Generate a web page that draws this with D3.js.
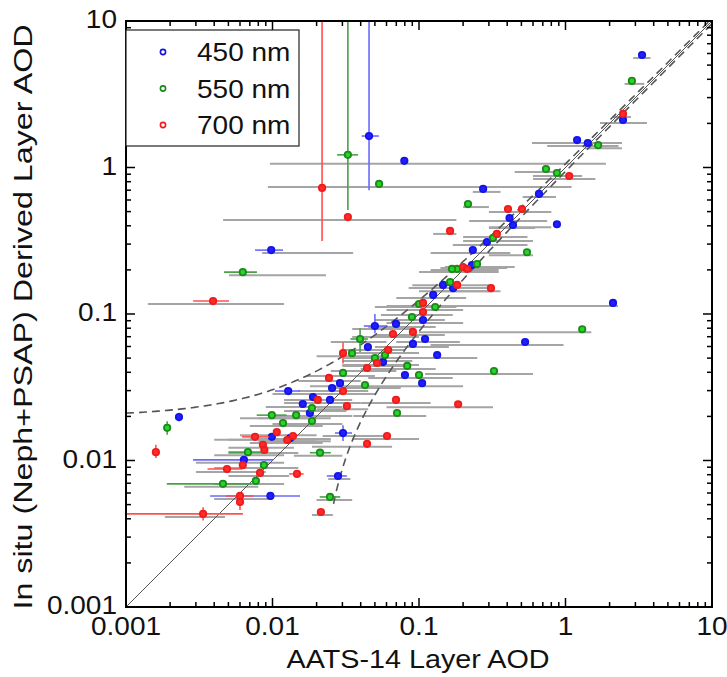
<!DOCTYPE html>
<html>
<head>
<meta charset="utf-8">
<script src="https://cdn.jsdelivr.net/npm/d3@7"></script>
<style>
  body { margin: 0; background: #fff; }
  text { font-family: "Liberation Sans", Arial, sans-serif; fill: #111; }
</style>
</head>
<body>
<div id="chart"></div>
<script>
// rows: [aats, insitu, greyLo, greyHi, xLo, xHi, yLo, yHi]  (null = none)
var nm450 = [
  [3.33, 5.86, 2.9, 3.8], [2.47, 2.11, 1.72, 3.6], [1.20, 1.54, 0.59, 2.43], [1.42, 1.47, 0.75, 2.3],
  [0.0456, 1.64, null, null, 0.0406, 0.0532, 0.70, 20], [0.0794, 1.11, 0.0096, 1.89],
  [0.0098, 0.273, 0.0085, 0.0355, 0.0076, 0.0118], [0.659, 0.66, 0.51, 0.86], [0.274, 0.714, 0.233, 0.36],
  [0.874, 0.41, 0.3, 0.8], [0.415, 0.452, 0.22, 0.75], [0.438, 0.405, 0.3, 0.62], [0.291, 0.31, 0.17, 0.55],
  [0.233, 0.273, 0.12, 0.42], [0.23, 0.216, 0.14, 0.4], [0.146, 0.158, 0.085, 0.27], [0.171, 0.15, 0.1, 0.3],
  [0.125, 0.135, 0.07, 0.21], [2.11, 0.119, 0.0686, 2.28], [0.0697, 0.0855, 0.045, 0.13], [0.1065, 0.091, 0.06, 0.2],
  [0.11, 0.0675, 0.07, 0.19], [0.0909, 0.0625, 0.05, 0.16], [0.05, 0.0828, 0.035, 0.09, 0.042, 0.06, 0.074, 0.1],
  [0.0448, 0.0595, 0.03, 0.08], [0.53, 0.0644, 0.12, 0.97], [0.133, 0.0525, 0.06, 0.25], [0.0802, 0.0383, 0.045, 0.15],
  [0.105, 0.0337, 0.05, 0.2], [0.0568, 0.047, 0.03, 0.1], [0.0289, 0.0337, 0.018, 0.05], [0.0255, 0.0312, 0.015, 0.045],
  [0.0128, 0.0298, 0.01, 0.03, 0.0104, 0.0154], [0.0189, 0.0271, 0.012, 0.035], [0.0247, 0.0259, 0.014, 0.04],
  [0.0303, 0.0154, 0.022, 0.06, 0.0267, 0.0349, 0.0136, 0.0174], [0.028, 0.00784, 0.024, 0.034, 0.0235, 0.0322],
  [0.00968, 0.00573, null, null, 0.00375, 0.0154], [0.00638, 0.0101, 0.003, 0.012, 0.00287, 0.0101],
  [0.0099, 0.0145, 0.005, 0.02], [0.0023, 0.0198, null, null, null, null, 0.0185, 0.0212],
  [0.0132, 0.0142, 0.008, 0.025], [0.0161, 0.0243, 0.009, 0.03], [0.018, 0.0211, 0.01, 0.035]
];
var nm550 = [
  [2.84, 3.9, 2.53, 3.45], [1.67, 1.42, 1.35, 2.43], [0.736, 0.977, 0.45, 0.92], [0.874, 0.917, 0.6, 1.3],
  [0.216, 0.563, 0.2, 0.3], [0.32, 0.33, 0.2, 0.6], [0.546, 0.264, 0.3, 0.6], [0.249, 0.219, 0.15, 0.45],
  [0.182, 0.203, 0.1, 0.35], [0.168, 0.203, 0.1, 0.3], [0.163, 0.165, 0.09, 0.3], [0.129, 0.1116, 0.06, 0.2],
  [0.1, 0.117, 0.05, 0.18], [0.0895, 0.0954, 0.05, 0.15], [1.30, 0.0787, 0.1, 1.5], [0.325, 0.0408, 0.11, 0.6],
  [0.0831, 0.0442, 0.04, 0.13], [0.1, 0.0383, 0.05, 0.17], [0.0396, 0.0675, 0.025, 0.06, 0.034, 0.0448, 0.055, 0.08],
  [0.0349, 0.054, 0.02, 0.06], [0.0586, 0.0525, 0.03, 0.1], [0.05, 0.05, 0.03, 0.09], [0.0303, 0.0396, 0.017, 0.05],
  [0.0428, 0.0327, 0.025, 0.075], [0.0708, 0.0211, 0.0356, 0.112], [0.0211, 0.0113, 0.014, 0.03, 0.018, 0.025],
  [0.0247, 0.00564, 0.02, 0.035, 0.021, 0.029], [0.0099, 0.0204, 0.006, 0.02, 0.0078, 0.0125],
  [0.0118, 0.018, 0.007, 0.022], [0.0068, 0.0114, 0.004, 0.012, 0.005, 0.0091], [0.00874, 0.0093, 0.006, 0.015],
  [0.0077, 0.00725, 0.004, 0.012], [0.00459, 0.00693, 0.0025, 0.008, 0.0019, 0.0072],
  [0.00191, 0.0167, null, null, null, null, 0.015, 0.0185], [0.0145, 0.0204, 0.008, 0.025], [0.0186, 0.0186, 0.01, 0.03],
  [0.0186, 0.0228, 0.012, 0.032], [0.00627, 0.193, 0.00505, 0.0232, 0.00467, 0.00783],
  [0.0327, 1.22, null, null, 0.0276, 0.0384, 0.513, 20], [0.0534, 0.772, 0.0093, 1.1]
];
var nm700 = [
  [2.47, 2.32, 2.1, 2.8], [1.06, 0.875, 0.6, 1.6], [0.405, 0.521, 0.35, 0.7], [0.505, 0.521, 0.3, 0.8],
  [0.163, 0.369, 0.125, 0.18], [0.34, 0.352, 0.2, 0.55], [0.2, 0.209, 0.12, 0.35], [0.213, 0.203, 0.12, 0.33],
  [0.182, 0.158, 0.1, 0.3], [0.31, 0.15, 0.12, 0.36], [0.1065, 0.119, 0.06, 0.2], [0.1065, 0.103, 0.055, 0.17],
  [0.0664, 0.073, 0.035, 0.1], [0.0909, 0.0754, 0.05, 0.15], [0.0303, 0.054, null, null, null, null, 0.046, 0.064],
  [0.0616, 0.0568, 0.035, 0.1], [0.0442, 0.0428, 0.025, 0.07], [0.0517, 0.0463, 0.03, 0.08],
  [0.0243, 0.0366, 0.015, 0.04], [0.0303, 0.0298, 0.018, 0.05], [0.0204, 0.0259, 0.012, 0.03],
  [0.0322, 0.0235, 0.02, 0.045], [0.0697, 0.0259, 0.04, 0.12], [0.185, 0.0242, 0.06, 0.32],
  [0.0605, 0.0147, 0.035, 0.1], [0.0442, 0.013, 0.0186, 0.0655], [0.0147, 0.0081, null, null, 0.013, 0.0163],
  [0.0214, 0.00445, 0.0186, 0.0258], [0.0076, 0.0145, 0.004, 0.015, 0.0062, 0.0095],
  [0.0107, 0.0156, 0.006, 0.02], [0.0138, 0.0147, 0.007, 0.025], [0.0126, 0.0138, 0.007, 0.022],
  [0.0086, 0.0128, 0.005, 0.014], [0.0088, 0.0118, 0.005, 0.015], [0.00489, 0.00875, 0.003, 0.009, 0.0036, 0.0062],
  [0.00627, 0.0093, 0.004, 0.012], [0.00822, 0.00822, 0.005, 0.013], [0.006, 0.00573, 0.004, 0.01, 0.0048, 0.0074],
  [0.006, 0.00521, null, null, null, null, 0.0046, 0.006],
  [0.00336, 0.00432, 0.00184, 0.00474, 0.001, 0.00628, 0.0039, 0.0048],
  [0.0016, 0.0114, null, null, null, null, 0.0104, 0.0128], [0.00393, 0.1226, 0.00141, 0.012, 0.00287, 0.00505],
  [0.0327, 0.459, 0.0046, 0.18], [0.0218, 0.725, null, null, 0.0205, 0.0232, 0.315, 20]
];
var seriesNames = ["450 nm", "550 nm", "700 nm"];
var seriesColors = ["#1414e6", "#1b8a1b", "#ee1c1c"];
var seriesBarColors = ["#6a6aff", "#4aa04a", "#ff5050"];
var decades = [0.001, 0.01, 0.1, 1, 10];

var svgWidth = 727, svgHeight = 677;
var margin = { top: 21, left: 126 };
var size = 586;

var svg = d3.select("#chart").append("svg")
  .attr("width", svgWidth).attr("height", svgHeight);

var chartGroup = svg.append("g")
  .attr("transform", `translate(${margin.left}, ${margin.top})`);

var x = d3.scaleLog().domain([0.001, 10]).range([0, size]);
var y = d3.scaleLog().domain([0.001, 10]).range([size, 0]);

svg.append("defs").append("clipPath").attr("id", "clip")
  .append("rect").attr("width", size).attr("height", size);

var plot = chartGroup.append("g").attr("clip-path", "url(#clip)");
var all = [nm450, nm550, nm700];

// grey bars
all.forEach(function(rows) {
  plot.selectAll(null).data(rows.filter(d => d[2] != null)).enter()
    .append("line")
    .attr("x1", d => x(d[2])).attr("x2", d => x(d[3]))
    .attr("y1", d => y(d[1]) + 3).attr("y2", d => y(d[1]) + 3)
    .attr("stroke", "#a5a5a5").attr("stroke-width", 2);
});

// reference lines
var xs = d3.range(0, 241).map(i => Math.pow(10, -3 + i / 60));
var line = d3.line().x(d => x(d[0])).y(d => y(d[1]));
plot.append("path").attr("d", line([[0.001, 0.001], [10, 10]]))
  .attr("fill", "none").attr("stroke", "#555").attr("stroke-width", 1);
plot.append("path").attr("d", line(xs.map(v => [v, 1.04 * v + 0.02])))
  .attr("fill", "none").attr("stroke", "#555").attr("stroke-width", 1.6)
  .attr("stroke-dasharray", "8,5");
plot.append("path").attr("d", line(xs.map(v => [v, 0.96 * v - 0.02]).filter(d => d[1] > 0.0044)))
  .attr("fill", "none").attr("stroke", "#555").attr("stroke-width", 1.6)
  .attr("stroke-dasharray", "8,5");

// coloured error bars and markers
all.forEach(function(rows, i) {
  var g = plot.append("g");
  g.selectAll(null).data(rows.filter(d => d[4] != null)).enter()
    .append("line")
    .attr("x1", d => x(d[4])).attr("x2", d => x(d[5]))
    .attr("y1", d => y(d[1])).attr("y2", d => y(d[1]))
    .attr("stroke", seriesBarColors[i]).attr("stroke-width", 1.6);
  g.selectAll(null).data(rows.filter(d => d[6] != null)).enter()
    .append("line")
    .attr("x1", d => x(d[0])).attr("x2", d => x(d[0]))
    .attr("y1", d => y(d[6])).attr("y2", d => y(d[7]))
    .attr("stroke", seriesBarColors[i]).attr("stroke-width", 1.6);
  g.selectAll(null).data(rows).enter()
    .append("circle")
    .attr("cx", d => x(d[0])).attr("cy", d => y(d[1]))
    .attr("r", 3.2)
    .attr("fill", d3.color(seriesColors[i]).brighter(1.2))
    .attr("stroke", seriesColors[i]).attr("stroke-width", 1.8);
});

// frame and ticks
chartGroup.append("rect").attr("width", size).attr("height", size)
  .attr("fill", "none").attr("stroke", "#000").attr("stroke-width", 2);

var tickVals = [];
decades.slice(0, 4).forEach(function(d) {
  for (var k = 1; k < 10; k++) tickVals.push(d * k);
});
tickVals.push(10);
var isMajor = v => decades.some(d => Math.abs(v / d - 1) < 1e-6);
var ticks = chartGroup.append("g").attr("stroke", "#000").attr("stroke-width", 1.5);
tickVals.forEach(function(v) {
  var len = isMajor(v) ? 9 : 5;
  ticks.append("line").attr("x1", x(v)).attr("x2", x(v)).attr("y1", size).attr("y2", size - len);
  ticks.append("line").attr("x1", x(v)).attr("x2", x(v)).attr("y1", 0).attr("y2", len);
  ticks.append("line").attr("y1", y(v)).attr("y2", y(v)).attr("x1", 0).attr("x2", len);
  ticks.append("line").attr("y1", y(v)).attr("y2", y(v)).attr("x1", size).attr("x2", size - len);
});

var fmt = d3.format("~g");
decades.forEach(function(v) {
  chartGroup.append("g").attr("transform", `translate(${x(v)}, ${size + 28})`)
    .append("text").attr("text-anchor", "middle").attr("font-size", 25)
    .attr("transform", "scale(1.12,1)").text(fmt(v));
  chartGroup.append("g").attr("transform", `translate(-9, ${y(v) + 7})`)
    .append("text").attr("text-anchor", "end").attr("font-size", 25)
    .attr("transform", "scale(1.12,1)").text(fmt(v));
});

// axis titles
svg.append("text").attr("x", 418).attr("y", 668).attr("text-anchor", "middle")
  .attr("font-size", 25).attr("textLength", 263).attr("lengthAdjust", "spacingAndGlyphs")
  .text("AATS-14 Layer AOD");
svg.append("text").attr("transform", "translate(32, 317) rotate(-90)").attr("text-anchor", "middle")
  .attr("font-size", 26).attr("textLength", 585).attr("lengthAdjust", "spacingAndGlyphs")
  .text("In situ (Neph+PSAP) Derived Layer AOD");

// legend
var legend = svg.append("g").attr("transform", "translate(126, 30)");
legend.append("rect").attr("width", 173).attr("height", 116)
  .attr("fill", "#fff").attr("stroke", "#222").attr("stroke-width", 1.2);
seriesNames.forEach(function(name, i) {
  var ly = 22 + i * 36.5;
  legend.append("circle").attr("cx", 37).attr("cy", ly).attr("r", 2.6)
    .attr("fill", "#fff").attr("stroke", seriesColors[i]).attr("stroke-width", 1.6);
  legend.append("g").attr("transform", `translate(71, ${ly + 9})`)
    .append("text").attr("font-size", 25).attr("transform", "scale(1.12,1)").text(name);
});
</script>
</body>
</html>
